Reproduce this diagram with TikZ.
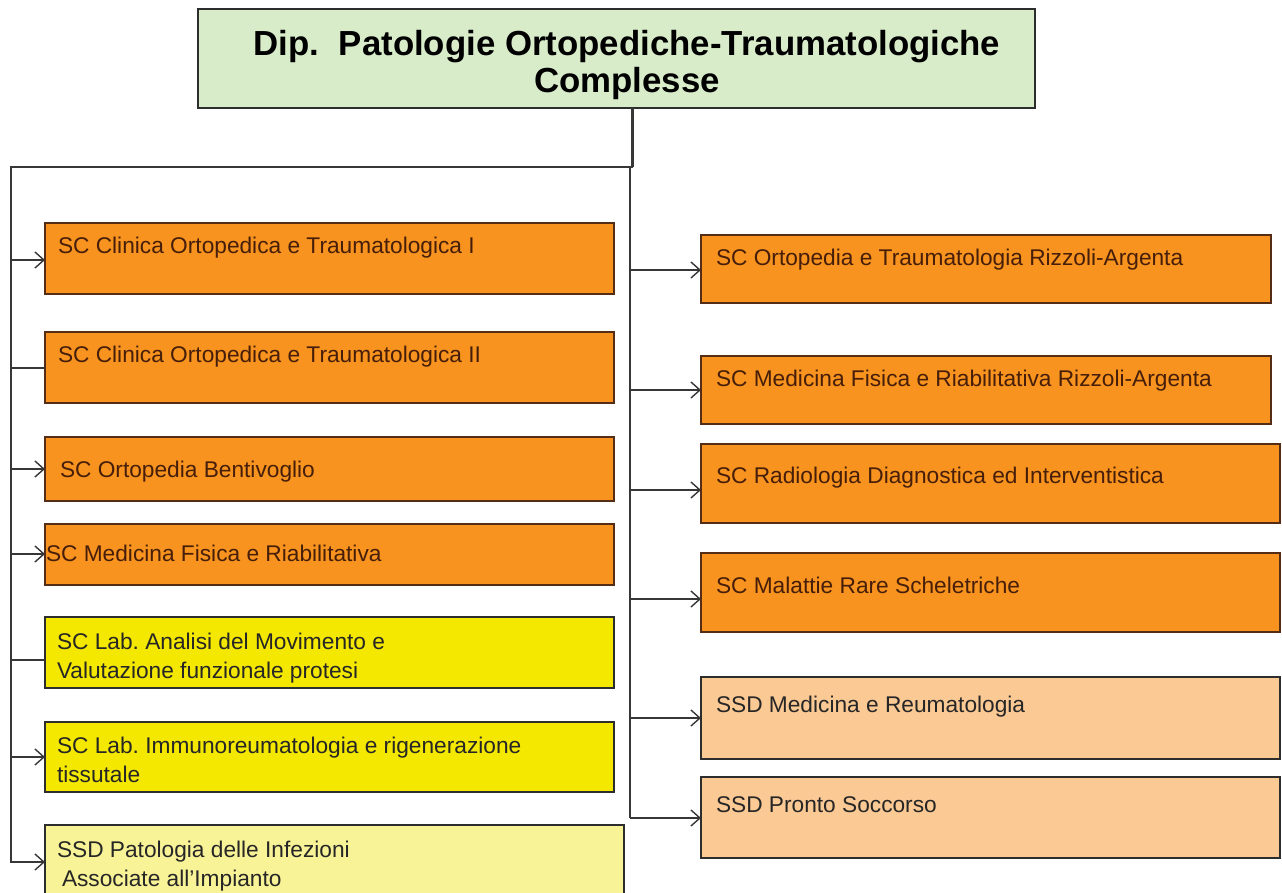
\documentclass[tikz,border=0pt]{standalone}
\usepackage{fontspec}
\setmainfont{Liberation Sans}
\usetikzlibrary{arrows.meta}
\definecolor{orangef}{RGB}{247,147,30}
\definecolor{orangeb}{RGB}{85,45,20}
\definecolor{orangetxt}{RGB}{70,30,10}
\definecolor{yellowf}{RGB}{244,232,0}
\definecolor{lyellowf}{RGB}{249,243,152}
\definecolor{peachf}{RGB}{251,201,148}
\definecolor{greenf}{RGB}{216,236,202}
\definecolor{edgec}{RGB}{45,45,45}
\definecolor{connc}{RGB}{55,55,55}
\frenchspacing
\begin{document}
\begin{tikzpicture}[x=1pt,y=-1pt,
  boxbase/.style={draw, line width=1.3pt, anchor=north west, inner sep=0pt, outer sep=0pt},
  obox/.style={boxbase, fill=orangef, draw=orangeb},
  ybox/.style={boxbase, fill=yellowf, draw=edgec},
  lybox/.style={boxbase, fill=lyellowf, draw=edgec},
  pbox/.style={boxbase, fill=peachf, draw=edgec},
  gbox/.style={boxbase, fill=greenf, draw=edgec},
  txt/.style={inner sep=0pt, outer sep=0pt, font=\fontsize{22.7}{29.5}\selectfont, align=left},
  otxt/.style={txt, text=orangetxt},
  ktxt/.style={txt, text=black!85},
  conn/.style={draw=connc, line width=1.4pt},
  arr/.style={conn, -{Straight Barb[length=9pt,width=16pt,line width=1.4pt]}},
]
\useasboundingbox (0,0) rectangle (1282,892);
\clip (0,0) rectangle (1282,892);
\fill[white] (0,0) rectangle (1282,892);

% top box
\node[gbox, minimum width=837pt, minimum height=99pt] (top) at (198,9) {};
\node[txt, anchor=north, align=center, font=\fontsize{34.8}{37}\selectfont\bfseries] (toptxt) at (627,30)
  {Dip.\ \ Patologie Ortopediche-Traumatologiche\\Complesse};

% left boxes
\node[obox, minimum width=569pt, minimum height=71pt] (L1) at (45,223) {};
\node[obox, minimum width=569pt, minimum height=71pt] (L2) at (45,332) {};
\node[obox, minimum width=569pt, minimum height=64pt] (L3) at (45,437) {};
\node[obox, minimum width=569pt, minimum height=61pt] (L4) at (45,524) {};
\node[ybox, minimum width=569pt, minimum height=71pt] (L5) at (45,617) {};
\node[ybox, minimum width=569pt, minimum height=70pt] (L6) at (45,722) {};
\node[lybox, minimum width=579pt, minimum height=90pt] (L7) at (45,825) {};

% right boxes
\node[obox, minimum width=570pt, minimum height=68pt] (R1) at (701,235) {};
\node[obox, minimum width=570pt, minimum height=68pt] (R2) at (701,356) {};
\node[obox, minimum width=579pt, minimum height=79pt] (R3) at (701,444) {};
\node[obox, minimum width=579pt, minimum height=79pt] (R4) at (701,553) {};
\node[pbox, minimum width=579pt, minimum height=82pt] (R5) at (701,677) {};
\node[pbox, minimum width=579pt, minimum height=81pt] (R6) at (701,777) {};

% texts left
\node[otxt, anchor=base west] (L1t) at (58,253) {SC Clinica Ortopedica e Traumatologica I};
\node[otxt, anchor=base west] (L2t) at (58,362) {SC Clinica Ortopedica e Traumatologica II};
\node[otxt, anchor=base west] (L3t) at (60,477) {SC Ortopedia Bentivoglio};
\node[otxt, anchor=base west] (L4t) at (46,561) {SC Medicina Fisica e Riabilitativa};
\node[ktxt, anchor=north west] (L5t) at (57,633) {SC Lab. Analisi del Movimento e\\Valutazione funzionale protesi};
\node[ktxt, anchor=north west] (L6t) at (57,737) {SC Lab. Immunoreumatologia e rigenerazione\\tissutale};
\node[ktxt, anchor=north west] (L7t) at (57,841) {SSD Patologia delle Infezioni\\\hspace*{5pt}Associate all’Impianto};

% texts right
\node[otxt, anchor=base west] (R1t) at (716,265) {SC Ortopedia e Traumatologia Rizzoli-Argenta};
\node[otxt, anchor=base west] (R2t) at (716,386) {SC Medicina Fisica e Riabilitativa Rizzoli-Argenta};
\node[otxt, anchor=base west] (R3t) at (716,483) {SC Radiologia Diagnostica ed Interventistica};
\node[otxt, anchor=base west] (R4t) at (716,593) {SC Malattie Rare Scheletriche};
\node[ktxt, anchor=base west] (R5t) at (716,712) {SSD Medicina e Reumatologia};
\node[ktxt, anchor=base west] (R6t) at (716,812) {SSD Pronto Soccorso};

% trunk coordinates
\coordinate (tk) at (top.south -| 632,0);
\coordinate (jn) at (632,167);
\coordinate (lc) at (11,167);
\coordinate (lb) at (11,862);
\coordinate (rc) at (630,167);
\coordinate (rb) at (630,818);

\draw[conn, line width=3pt] (tk) -- (jn);
\draw[conn, line cap=rect] (jn) -- (lc) -- (lb);
\draw[conn] (rc) -- (rb);

% left connectors
\coordinate (a1) at (11,260);
\coordinate (a2) at (11,368);
\coordinate (a3) at (11,469);
\coordinate (a4) at (11,554);
\coordinate (a5) at (11,660);
\coordinate (a6) at (11,757);
\draw[arr] (a1) -- (a1 -| L1.west);
\draw[conn] (a2) -- (a2 -| L2.west);
\draw[arr] (a3) -- (a3 -| L3.west);
\draw[arr] (a4) -- (a4 -| L4.west);
\draw[conn] (a5) -- (a5 -| L5.west);
\draw[arr] (a6) -- (a6 -| L6.west);
\draw[arr] (lb) -- (lb -| L7.west);

% right connectors
\coordinate (b1) at (630,270);
\coordinate (b2) at (630,390);
\coordinate (b3) at (630,490);
\coordinate (b4) at (630,599);
\coordinate (b5) at (630,718);
\draw[arr] (b1) -- (b1 -| R1.west);
\draw[arr] (b2) -- (b2 -| R2.west);
\draw[arr] (b3) -- (b3 -| R3.west);
\draw[arr] (b4) -- (b4 -| R4.west);
\draw[arr] (b5) -- (b5 -| R5.west);
\draw[arr] (rb) -- (rb -| R6.west);
\end{tikzpicture}
\end{document}
